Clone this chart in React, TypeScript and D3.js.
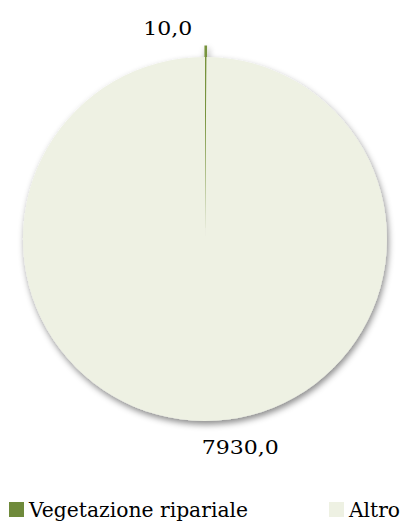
import React from "react";
import * as d3 from "d3";

const categories = ["Vegetazione ripariale", "Altro"];
const values = [10.0, 7930.0];
const valueLabels = ["10,0", "7930,0"];
const colors = ["#77933C", "#EEF1E3"];
const legendColors = ["#6F8A3B", "#EEF1E3"];

export default function App() {
  const W = 409, H = 524;
  const cx = 205, cy = 239, r = 182;
  const data = categories.map((c, i) => ({ c, v: values[i], label: valueLabels[i] }));
  const pie = d3.pie<any>().value((d) => d.v).sort(null);
  const arcs = pie(data);
  const arc = d3.arc<any>().innerRadius(0).outerRadius(r);
  const explode = [11, 0];
  const labelArc = d3.arc<any>().innerRadius(r + 20).outerRadius(r + 20);
  const labelOffsets = [[-38, 0], [36, 0]];
  const labelLens = [49, 77];
  const font = "'DejaVu Serif', 'Liberation Serif', serif";
  return (
    <svg width={W} height={H} style={{ position: "absolute", left: 0, top: 0 }} fontFamily={font}>
      <defs>
        <filter id="sh" x="-20%" y="-20%" width="140%" height="140%">
          <feDropShadow dx="1.5" dy="3.5" stdDeviation="3" floodColor="#000" floodOpacity="0.45" />
        </filter>
      </defs>
      <g transform={`translate(${cx},${cy})`}>
        <g filter="url(#sh)">
          {arcs.map((a, i) => {
            const mid = (a.startAngle + a.endAngle) / 2;
            const dx = Math.sin(mid) * explode[i];
            const dy = -Math.cos(mid) * explode[i];
            return (
              <path
                key={i}
                d={arc(a) as string}
                transform={`translate(${dx},${dy})`}
                fill={colors[i]}
                stroke={i === 0 ? colors[0] : "none"}
                strokeWidth={i === 0 ? 1.2 : 0}
              />
            );
          })}
        </g>
        {arcs.map((a, i) => {
          const [lx] = labelArc.centroid(a);
          const x = lx + labelOffsets[i][0];
          const y = i === 0 ? -r - 22 : r + 33;
          return (
            <text key={i} x={x} y={y} fontSize={19} fill="#000" textAnchor="middle"
              textLength={labelLens[i]} lengthAdjust="spacingAndGlyphs">
              {a.data.label}
            </text>
          );
        })}
      </g>
      <g>
        <rect x={9} y={502} width={15} height={15} fill={legendColors[0]} />
        <text x={29} y={517} fontSize={21} fill="#000" textLength={219} lengthAdjust="spacingAndGlyphs">{categories[0]}</text>
        <rect x={329} y={502} width={15} height={15} fill={legendColors[1]} />
        <text x={349} y={517} fontSize={21} fill="#000" textLength={51} lengthAdjust="spacingAndGlyphs">{categories[1]}</text>
      </g>
    </svg>
  );
}
